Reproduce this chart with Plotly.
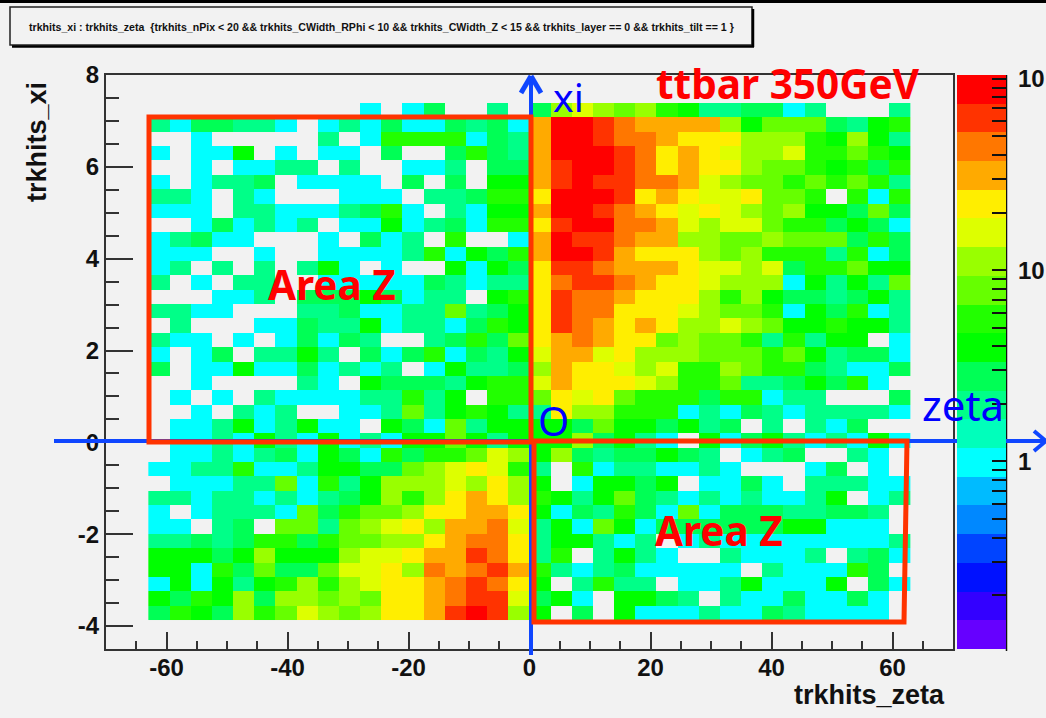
import numpy as np
import plotly.graph_objects as go

# ---------- data: entries per bin (rows run from top to bottom) ----------
zeta_first_edge = -63.0
zeta_bin_width = 3.5
xi_top_edge = 7.39
xi_bin_width = 0.3128

counts_zeta_negative = [
    [0,0,0,0,0,0,0,0,0,0,1,0,1,3,0,0,2,0],
    [2,1,3,3,2,2,1,0,1,2,1,3,1,1,3,2,3,1],
    [0,0,1,0,0,0,0,0,2,0,1,5,5,5,5,1,3,2],
    [1,0,1,1,4,0,1,0,1,1,0,3,0,0,3,5,3,2],
    [0,0,1,0,1,1,2,2,0,2,0,0,1,1,2,0,3,3],
    [1,0,1,2,2,3,0,1,1,1,1,0,3,0,3,0,4,4],
    [2,2,1,0,2,1,0,0,0,1,1,1,0,2,2,3,5,5],
    [1,1,1,0,2,2,1,1,1,2,3,5,1,0,2,1,4,4],
    [0,0,1,3,1,2,1,2,0,1,1,4,1,2,3,1,5,5],
    [1,2,3,1,1,0,0,0,1,0,3,1,2,0,5,0,0,1],
    [1,1,1,0,0,1,0,0,1,1,1,1,2,5,1,4,3,5],
    [1,2,0,2,0,2,0,2,4,1,0,1,0,0,4,1,4,3],
    [2,0,1,0,2,2,0,0,1,1,1,1,1,3,2,1,2,2],
    [0,0,0,1,1,2,0,3,3,3,4,3,1,2,2,0,4,5],
    [2,2,1,1,0,0,0,2,2,3,1,1,2,2,8,2,3,4],
    [0,2,0,0,0,1,1,3,2,2,4,1,2,2,1,3,5,4],
    [2,1,1,0,1,0,1,3,1,3,2,0,0,2,3,5,3,8],
    [1,0,1,3,0,2,2,4,2,0,3,1,3,5,1,3,2,4],
    [3,0,1,1,4,1,1,3,1,2,1,2,0,1,4,2,2,3],
    [0,0,1,0,0,0,0,2,1,0,4,3,3,3,2,4,5,5],
    [0,1,0,1,0,2,1,1,1,1,2,2,5,2,4,0,5,5],
    [0,0,1,0,2,1,2,0,0,1,1,2,8,2,4,5,4,2],
    [0,1,1,2,4,1,2,4,1,1,0,4,3,1,8,2,4,4],
    [0,1,1,2,1,4,2,1,4,1,2,1,4,4,8,4,2,4],
    [0,1,1,2,1,2,3,1,4,3,1,5,3,5,5,8,16,11],
    [1,1,2,2,5,1,1,2,4,4,3,3,8,11,16,23,16,5],
    [0,1,1,1,2,2,8,1,5,2,4,11,11,11,16,11,23,11],
    [2,2,1,2,2,1,2,1,2,3,4,11,5,11,23,32,23,11],
    [1,0,1,2,2,2,1,8,3,5,8,8,11,23,23,32,32,23],
    [1,1,0,2,3,0,8,8,2,8,11,16,23,11,32,32,44,16],
    [2,2,3,2,3,5,5,3,5,8,8,11,11,23,32,44,44,23],
    [4,4,4,3,4,11,4,4,4,11,16,16,23,32,32,60,44,23],
    [4,4,1,5,3,8,3,3,8,16,16,23,11,44,32,44,60,32],
    [1,4,1,4,2,4,5,11,5,11,16,23,23,32,44,60,44,23],
    [4,3,5,4,11,3,11,11,8,11,8,23,23,32,44,60,60,16],
    [3,5,4,3,11,5,8,16,11,8,11,23,23,32,60,85,60,11],
]

counts_zeta_positive = [
    [3,11,16,11,8,11,5,4,2,2,3,3,1,2,0,0,0,2],
    [32,85,85,60,44,32,32,32,32,11,4,8,8,8,3,2,4,5],
    [32,85,85,60,44,44,32,23,23,23,11,11,11,5,4,11,4,2],
    [32,85,85,85,60,44,23,32,23,16,11,11,16,5,5,8,5,4],
    [32,60,85,85,60,44,23,32,23,23,11,8,8,5,4,5,3,5],
    [32,60,85,60,60,44,44,32,16,11,8,8,5,8,5,8,5,2],
    [23,85,85,85,60,23,32,23,16,16,23,8,8,5,0,5,1,5],
    [32,85,85,60,44,32,23,16,23,16,11,8,11,4,4,3,8,3],
    [23,60,85,85,44,44,32,16,11,16,16,8,5,5,3,4,3,1],
    [32,85,60,60,44,32,32,11,11,8,8,11,8,8,8,3,5,3],
    [32,85,85,60,32,23,23,23,11,8,11,5,5,5,2,5,1,3],
    [23,60,60,44,32,32,32,23,16,16,11,16,3,5,5,8,4,4],
    [23,44,60,60,44,32,23,23,16,11,11,11,1,4,2,4,2,8],
    [23,60,44,44,32,23,23,23,11,5,11,4,3,3,2,3,4,2],
    [23,60,44,44,23,23,23,16,11,8,8,5,1,4,3,5,1,2],
    [23,60,44,32,23,32,23,11,11,16,11,8,4,4,5,4,4,2],
    [23,32,44,32,23,23,8,11,8,8,5,2,5,2,4,4,0,1],
    [16,32,32,16,23,11,11,11,8,8,8,5,8,4,2,3,3,1],
    [11,32,23,23,16,11,16,5,5,11,8,5,5,3,2,1,1,3],
    [16,32,23,23,23,16,11,5,5,8,2,2,3,4,3,5,1,0],
    [8,23,16,23,8,5,5,5,3,5,5,1,2,2,0,0,0,3],
    [2,23,11,11,5,5,5,1,2,1,3,2,1,2,2,2,2,1],
    [4,4,3,8,4,4,3,4,2,3,0,2,0,2,1,3,0,0],
    [4,4,11,3,4,2,1,0,4,1,3,4,2,1,2,1,4,1],
    [4,11,3,2,3,3,4,3,2,0,1,2,3,0,0,2,1,0],
    [2,0,5,1,2,2,1,1,2,1,0,0,0,1,3,0,1,0],
    [4,0,1,4,4,3,4,0,1,1,3,1,0,2,2,2,1,1],
    [5,4,2,4,8,3,2,1,2,1,2,1,1,2,4,0,1,2],
    [4,1,3,2,5,3,1,8,1,3,3,3,2,2,3,3,2,0],
    [2,4,1,8,4,1,3,3,3,3,3,3,4,4,1,1,1,0],
    [2,4,4,2,1,2,0,1,2,1,1,1,1,1,1,1,1,2],
    [2,5,0,2,4,2,1,0,0,2,1,1,1,2,0,2,3,1],
    [5,2,1,2,3,1,1,1,1,1,0,2,1,1,1,5,3,0],
    [4,0,2,5,2,2,0,1,1,2,4,1,1,1,4,0,3,1],
    [3,4,1,0,4,4,3,2,0,2,1,1,3,1,1,3,1,0],
    [4,0,3,0,4,1,1,1,2,1,1,3,2,1,1,1,1,0],
]

palette = ["#6600ff","#3300ff","#0011ff","#0044ff","#0088ff","#00bbff","#00ffff","#00ffbb",
           "#00ff88","#00ff55","#00ff00","#22ff00","#66ff00","#99ff00","#ddff00","#ffee00",
           "#ffaa00","#ff7700","#ff3300","#ff0000"]
log_z_min = -0.98
log_z_max = 2.02
colorbar_decades = [0.1, 1, 10]
zeta_ticks = [-60, -40, -20, 0, 20, 40, 60]
zeta_tick_labels = ["-60", "-40", "-20", "0", "20", "40", "60"]
xi_ticks = [-4, -2, 0, 2, 4, 6, 8]
xi_tick_labels = ["-4", "-2", "0", "2", "4", "6", "8"]
title_text = ("trkhits_xi : trkhits_zeta  {trkhits_nPix < 20 && trkhits_CWidth_RPhi < 10 && "
              "trkhits_CWidth_Z < 15 && trkhits_layer == 0 && trkhits_tilt == 1 }")

# ---------- page geometry ----------
W, H = 1046, 718
L, R, T, B = 106, 953, 75, 649
BG = "#f2f2f2"
FRAME = "#333333"
SANS = "Liberation Sans"
OVER = "Noto Sans"
RED = "#ff3300"
BLUE = "#0f46ff"

def px(x):
    return (x - L) / (R - L)

def py(y):
    return (B - y) / (B - T)

def line(x0, y0, x1, y1, color, width):
    return dict(type="line", xref="paper", yref="paper", x0=px(x0), y0=py(y0), x1=px(x1), y1=py(y1),
                line=dict(color=color, width=width), layer="above")

def poly(points, color, width):
    path = "M " + " L ".join(f"{px(a):.5f},{py(b):.5f}" for a, b in points) + " Z"
    return dict(type="path", xref="paper", yref="paper", path=path,
                line=dict(color=color, width=width), layer="above")

def note(x, y, text, size, color, family=OVER, bold=True, angle=0, xanchor="center"):
    return dict(x=px(x), y=py(y), xref="paper", yref="paper", text=text, showarrow=False,
                xanchor=xanchor, yanchor="middle", textangle=angle,
                font=dict(family=family, size=size, color=color, weight=700 if bold else 400))

# ---------- heat map ----------
rows = [a + b for a, b in zip(counts_zeta_negative, counts_zeta_positive)]
counts = np.array(rows[::-1], dtype=float)
log_counts = np.where(counts > 0, np.log10(np.where(counts > 0, counts, 1)), np.nan)

n = len(palette)
colorscale = []
for i, c in enumerate(palette):
    colorscale += [[i / n, c], [(i + 1) / n, c]]

minor_values = [k * d for d in colorbar_decades for k in range(1, 10)]
minor_values = [v for v in minor_values if log_z_min < np.log10(v) < log_z_max and v != 0.1]
tick_vals = [float(np.log10(v)) for v in minor_values] + [2.0]
tick_text = []
for v in minor_values:
    tick_text.append("\u00a01" if v == 1 else ("\u00a010" if v == 10 else ""))
tick_text.append("\u00a010")

fig = go.Figure(go.Heatmap(
    z=log_counts.tolist(),
    x0=zeta_first_edge + zeta_bin_width / 2, dx=zeta_bin_width,
    y0=xi_top_edge - xi_bin_width * (len(rows) - 0.5), dy=xi_bin_width,
    zmin=log_z_min, zmax=log_z_max, colorscale=colorscale, hoverongaps=False,
    colorbar=dict(
        x=px(957), xanchor="left", y=0, yanchor="bottom", len=1, lenmode="fraction",
        thickness=49, thicknessmode="pixels", xpad=0, ypad=0, outlinewidth=0,
        ticks="inside", ticklen=14, tickwidth=1.5, tickcolor="#111111",
        tickmode="array", tickvals=tick_vals, ticktext=tick_text,
        tickfont=dict(family=SANS, size=24, color="#111111", weight=700),
    ),
))

# ---------- overlays ----------
shapes = [
    dict(type="rect", xref="paper", yref="paper", x0=px(0), x1=px(W), y0=py(3), y1=py(0),
         fillcolor="#000000", line=dict(width=0), layer="above"),
    # title box with its shadow
    dict(type="rect", xref="paper", yref="paper", x0=px(10), x1=px(752), y0=py(45), y1=py(7),
         line=dict(color="#222222", width=1.5), layer="above"),
    line(753, 9, 753, 47, "#000000", 2.5),
    line(12, 46.5, 754, 46.5, "#000000", 2.5),
    # colour bar axis line and long decade ticks
    line(1006.5, 75, 1006.5, 651, "#111111", 1.5),
]
for decade in (0, 1, 2):
    y = B - (decade - log_z_min) / (log_z_max - log_z_min) * (B - T)
    shapes.append(line(980, y, 1006, y, "#111111", 1.5))

# blue axes drawn on top of the plot
shapes += [
    line(54, 441, 1046, 441, BLUE, 4),
    line(1034, 431, 1046, 441, BLUE, 4),
    line(1034, 451, 1046, 441, BLUE, 4),
    line(531, 655, 531, 76, BLUE, 4),
    line(521, 93, 531, 76, BLUE, 5),
    line(541, 93, 531, 76, BLUE, 5),
    # red Area Z frames
    poly([(149, 117), (531, 117), (531, 442), (149, 442)], RED, 5),
    poly([(534, 441), (907, 441), (904, 622), (534, 622)], RED, 5),
]

annotations = [
    note(381, 27, title_text, 10.6, "#111111", family=SANS, bold=True),
    note(869, 695, "trkhits_zeta", 27, "#111111", family=SANS),
    note(37, 142, "trkhits_xi", 27, "#111111", family=SANS, angle=-90),
    note(788, 84, "ttbar 350GeV", 40.5, "#ff0000"),
    note(332, 284, "Area Z", 40.5, "#ff0000"),
    note(719, 530, "Area Z", 40.5, "#ff0000"),
    note(568, 96, "xi", 39, "#0000ff", bold=False),
    note(963, 405, "zeta", 42, "#0000ff", bold=False),
    note(553, 420, "O", 40, "#0000ff", bold=False),
]

axis_font = dict(family=SANS, size=24, color="#111111", weight=700)
fig.update_layout(
    width=W, height=H, autosize=False,
    paper_bgcolor=BG, plot_bgcolor=BG,
    margin=dict(l=L, r=W - R, t=T, b=H - B, pad=0, autoexpand=False),
    shapes=shapes, annotations=annotations, showlegend=False,
)
fig.update_xaxes(
    range=[-70, 70], tickmode="array", tickvals=zeta_ticks, ticktext=zeta_tick_labels,
    ticks="inside", ticklen=17, tickwidth=1.5, ticklabelstandoff=-4,
    tickcolor=FRAME, showgrid=False, zeroline=False, showline=True, mirror=True,
    linecolor=FRAME, linewidth=2, tickfont=axis_font,
    minor=dict(tickmode="linear", dtick=5, tick0=0, ticks="inside", ticklen=8, tickwidth=1.5,
               tickcolor=FRAME, showgrid=False),
)
fig.update_yaxes(
    range=[-4.5, 8], tickmode="array", tickvals=xi_ticks, ticktext=xi_tick_labels,
    ticks="inside", ticklen=27, tickwidth=1.5,
    tickcolor=FRAME, showgrid=False, zeroline=False, showline=True, mirror=True,
    linecolor=FRAME, linewidth=2, tickfont=axis_font,
    minor=dict(tickmode="linear", dtick=0.5, tick0=0, ticks="inside", ticklen=13, tickwidth=1.5,
               tickcolor=FRAME, showgrid=False),
)

fig.write_html("out.html", config=dict(displayModeBar=False),
               post_script="document.body.style.margin='0';document.body.style.overflow='hidden';")
